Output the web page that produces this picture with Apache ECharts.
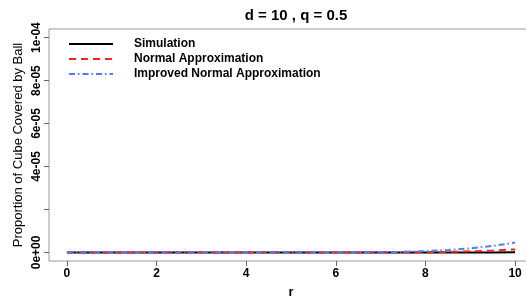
<!DOCTYPE html>
<html>
<head>
<meta charset="utf-8">
<script src="https://cdn.jsdelivr.net/npm/echarts@6/dist/echarts.min.js"></script>
<style>
  html, body { margin: 0; padding: 0; background: #fff; }
  #chart { width: 526px; height: 299px; }
</style>
</head>
<body>
<div id="chart"></div>
<script>
// r values along the x axis
var rValues = [0, 0.5, 1, 1.5, 2, 2.5, 3, 3.5, 4, 4.5, 5, 5.5, 6, 6.5, 7, 7.5, 8, 8.5, 9, 9.5, 10];
// proportion of cube covered by ball
var simulation = [0, 0, 0, 0, 0, 0, 0, 0, 0, 0, 0, 0, 0, 0, 0, 0, 0, 0, 0, 0, 1e-7];
var normalApprox = [0, 0, 0, 0, 0, 0, 0, 0, 0, 0, 0, 0, 0, 0, 1e-8, 4e-8, 1e-7, 2.5e-7, 5e-7, 9e-7, 1.4e-6];
var improvedApprox = [0, 0, 0, 0, 0, 0, 0, 0, 0, 0, 0, 0, 0, 2e-8, 1e-7, 2.5e-7, 6e-7, 1.1e-6, 1.9e-6, 3e-6, 4.6e-6];
var xTicks = [0, 2, 4, 6, 8, 10];
var yTicks = [0, 2e-5, 4e-5, 6e-5, 8e-5, 1e-4];
var yTickLabels = ['0e+00', '', '4e-05', '6e-05', '8e-05', '1e-04'];

function pairs(xs, ys) {
  return xs.map(function (x, i) { return [x, ys[i]]; });
}

var font = 'Liberation Sans, Arial, sans-serif';
var myChart = echarts.init(document.getElementById('chart'));

myChart.setOption({
  animation: false,
  title: {
    text: 'd = 10 , q = 0.5',
    left: 291, top: 3, textAlign: 'center',
    textStyle: { fontFamily: font, fontSize: 15, fontWeight: 'bold', color: '#000' }
  },
  legend: {
    orient: 'vertical',
    left: 68, top: 38, padding: 0,
    itemWidth: 44, itemHeight: 10, itemGap: 3,
    itemStyle: { opacity: 0 },
    textStyle: { fontFamily: font, fontSize: 12, fontWeight: 'bold', color: '#000', padding: [0, 0, 0, 16], lineHeight: 10 },
    data: ['Simulation', 'Normal Approximation', 'Improved Normal Approximation']
  },
  grid: {
    left: 49, top: 29, right: -7, bottom: 38,
    outerBoundsMode: 'none', containLabel: false,
    show: true, borderColor: '#999', borderWidth: 1
  },
  xAxis: {
    type: 'value', min: -0.4, max: 10.4,
    name: 'r', nameLocation: 'middle', nameGap: 25, nameMoveOverlap: false,
    nameTextStyle: { fontFamily: font, fontSize: 13, fontWeight: 'bold', color: '#000' },
    axisLine: { show: false, onZero: false },
    splitLine: { show: false },
    axisTick: { show: true, customValues: xTicks, length: 5, lineStyle: { color: '#666' } },
    axisLabel: { customValues: xTicks, fontFamily: font, fontSize: 12, fontWeight: 'bold', color: '#000', margin: 7 }
  },
  yAxis: {
    type: 'value', min: -4e-6, max: 1.04e-4,
    name: 'Proportion of Cube Covered by Ball', nameLocation: 'middle', nameGap: 24, nameMoveOverlap: false,
    nameTextStyle: { fontFamily: font, fontSize: 13, color: '#000' },
    axisLine: { show: false, onZero: false },
    splitLine: { show: false },
    axisTick: { show: true, customValues: yTicks, length: 5, lineStyle: { color: '#666' } },
    axisLabel: {
      customValues: yTicks, rotate: 90, margin: 6,
      fontFamily: font, fontSize: 12, fontWeight: 'bold', color: '#000',
      formatter: function (v) {
        var i = yTicks.findIndex(function (t) { return Math.abs(t - v) < 1e-9; });
        return i >= 0 ? yTickLabels[i] : '';
      }
    }
  },
  series: [
    {
      name: 'Simulation', type: 'line', symbol: 'none', color: '#000',
      lineStyle: { width: 2, color: '#000' },
      data: pairs(rValues, simulation)
    },
    {
      name: 'Normal Approximation', type: 'line', symbol: 'none', color: '#ff2020',
      lineStyle: { width: 2, color: '#ff2020', type: [7, 5] },
      data: pairs(rValues, normalApprox)
    },
    {
      name: 'Improved Normal Approximation', type: 'line', symbol: 'none', color: '#4a7dff',
      lineStyle: { width: 2, color: '#4a7dff', type: [6, 3, 1.5, 3] },
      data: pairs(rValues, improvedApprox)
    }
  ]
});
</script>
</body>
</html>
